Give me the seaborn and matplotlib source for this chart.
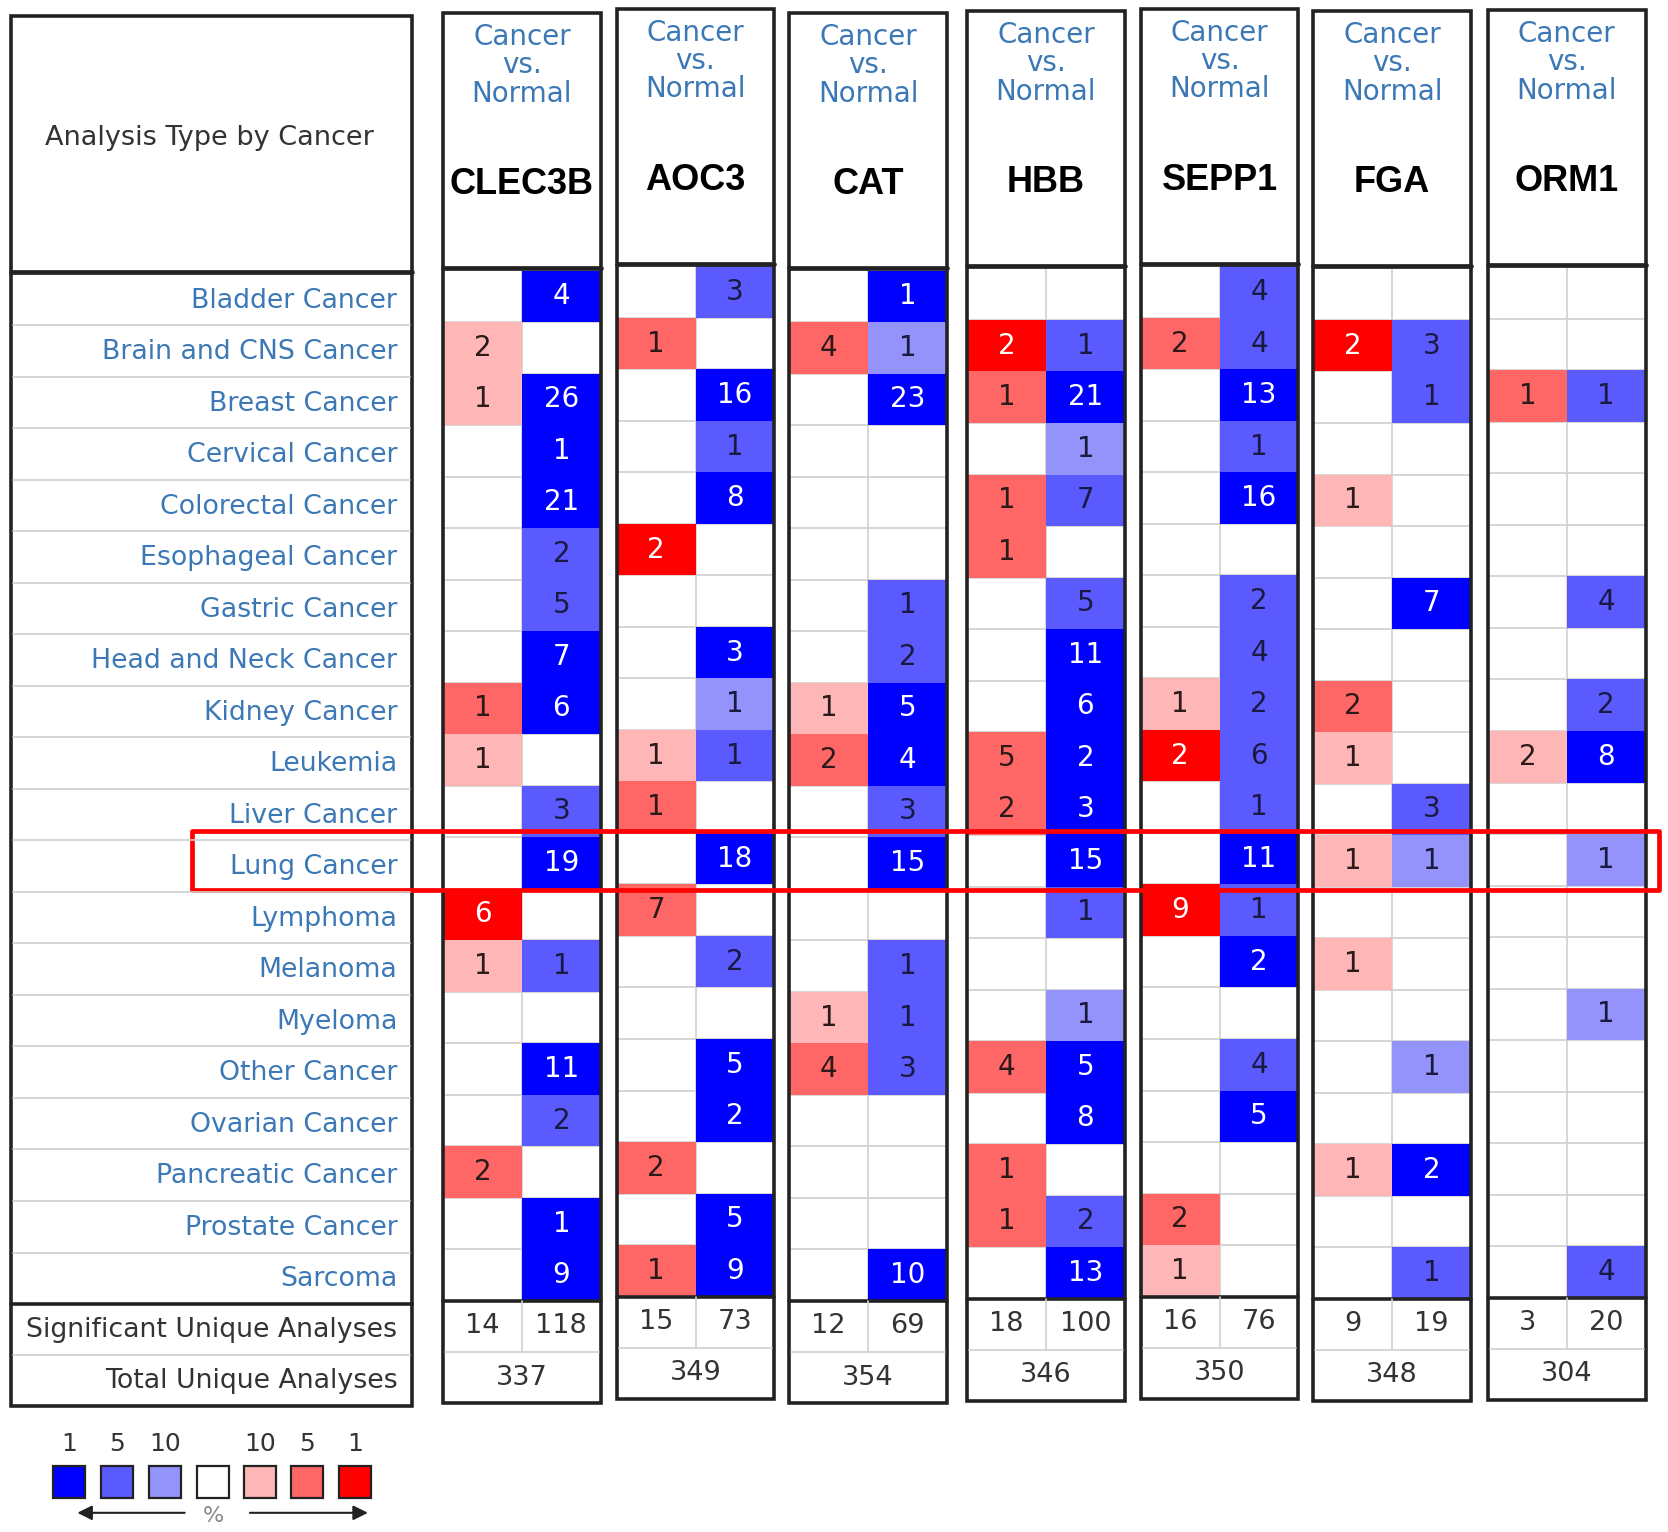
import numpy as np
import pandas as pd
import matplotlib
matplotlib.use("Agg")
import matplotlib.pyplot as plt
from matplotlib.colors import ListedColormap
from matplotlib.patches import Rectangle
import seaborn as sns

cancers = ["Bladder Cancer", "Brain and CNS Cancer", "Breast Cancer", "Cervical Cancer",
           "Colorectal Cancer", "Esophageal Cancer", "Gastric Cancer", "Head and Neck Cancer",
           "Kidney Cancer", "Leukemia", "Liver Cancer", "Lung Cancer", "Lymphoma",
           "Melanoma", "Myeloma", "Other Cancer", "Ovarian Cancer", "Pancreatic Cancer",
           "Prostate Cancer", "Sarcoma"]
genes = ["CLEC3B", "AOC3", "CAT", "HBB", "SEPP1", "FGA", "ORM1"]

# counts of analyses (up = red column, dn = blue column) and gene rank percentile (1/5/10)
clec3b_up   = [0, 2, 1, 0, 0, 0, 0, 0, 1, 1, 0, 0, 6, 1, 0, 0, 0, 2, 0, 0]
clec3b_up_p = [0, 10, 10, 0, 0, 0, 0, 0, 5, 10, 0, 0, 1, 10, 0, 0, 0, 5, 0, 0]
clec3b_dn   = [4, 0, 26, 1, 21, 2, 5, 7, 6, 0, 3, 19, 0, 1, 0, 11, 2, 0, 1, 9]
clec3b_dn_p = [1, 0, 1, 1, 1, 5, 5, 1, 1, 0, 5, 1, 0, 5, 0, 1, 5, 0, 1, 1]

aoc3_up   = [0, 1, 0, 0, 0, 2, 0, 0, 0, 1, 1, 0, 7, 0, 0, 0, 0, 2, 0, 1]
aoc3_up_p = [0, 5, 0, 0, 0, 1, 0, 0, 0, 10, 5, 0, 5, 0, 0, 0, 0, 5, 0, 5]
aoc3_dn   = [3, 0, 16, 1, 8, 0, 0, 3, 1, 1, 0, 18, 0, 2, 0, 5, 2, 0, 5, 9]
aoc3_dn_p = [5, 0, 1, 5, 1, 0, 0, 1, 10, 5, 0, 1, 0, 5, 0, 1, 1, 0, 1, 1]

cat_up   = [0, 4, 0, 0, 0, 0, 0, 0, 1, 2, 0, 0, 0, 0, 1, 4, 0, 0, 0, 0]
cat_up_p = [0, 5, 0, 0, 0, 0, 0, 0, 10, 5, 0, 0, 0, 0, 10, 5, 0, 0, 0, 0]
cat_dn   = [1, 1, 23, 0, 0, 0, 1, 2, 5, 4, 3, 15, 0, 1, 1, 3, 0, 0, 0, 10]
cat_dn_p = [1, 10, 1, 0, 0, 0, 5, 5, 1, 1, 5, 1, 0, 5, 5, 5, 0, 0, 0, 1]

hbb_up   = [0, 2, 1, 0, 1, 1, 0, 0, 0, 5, 2, 0, 0, 0, 0, 4, 0, 1, 1, 0]
hbb_up_p = [0, 1, 5, 0, 5, 5, 0, 0, 0, 5, 5, 0, 0, 0, 0, 5, 0, 5, 5, 0]
hbb_dn   = [0, 1, 21, 1, 7, 0, 5, 11, 6, 2, 3, 15, 1, 0, 1, 5, 8, 0, 2, 13]
hbb_dn_p = [0, 5, 1, 10, 5, 0, 5, 1, 1, 1, 1, 1, 5, 0, 10, 1, 1, 0, 5, 1]

sepp1_up   = [0, 2, 0, 0, 0, 0, 0, 0, 1, 2, 0, 0, 9, 0, 0, 0, 0, 0, 2, 1]
sepp1_up_p = [0, 5, 0, 0, 0, 0, 0, 0, 10, 1, 0, 0, 1, 0, 0, 0, 0, 0, 5, 10]
sepp1_dn   = [4, 4, 13, 1, 16, 0, 2, 4, 2, 6, 1, 11, 1, 2, 0, 4, 5, 0, 0, 0]
sepp1_dn_p = [5, 5, 1, 5, 1, 0, 5, 5, 5, 5, 5, 1, 5, 1, 0, 5, 1, 0, 0, 0]

fga_up   = [0, 2, 0, 0, 1, 0, 0, 0, 2, 1, 0, 1, 0, 1, 0, 0, 0, 1, 0, 0]
fga_up_p = [0, 1, 0, 0, 10, 0, 0, 0, 5, 10, 0, 10, 0, 10, 0, 0, 0, 10, 0, 0]
fga_dn   = [0, 3, 1, 0, 0, 0, 7, 0, 0, 0, 3, 1, 0, 0, 0, 1, 0, 2, 0, 1]
fga_dn_p = [0, 5, 5, 0, 0, 0, 1, 0, 0, 0, 5, 10, 0, 0, 0, 10, 0, 1, 0, 5]

orm1_up   = [0, 0, 1, 0, 0, 0, 0, 0, 0, 2, 0, 0, 0, 0, 0, 0, 0, 0, 0, 0]
orm1_up_p = [0, 0, 5, 0, 0, 0, 0, 0, 0, 10, 0, 0, 0, 0, 0, 0, 0, 0, 0, 0]
orm1_dn   = [0, 0, 1, 0, 0, 0, 4, 0, 2, 8, 0, 1, 0, 0, 1, 0, 0, 0, 0, 4]
orm1_dn_p = [0, 0, 5, 0, 0, 0, 5, 0, 5, 1, 0, 10, 0, 0, 10, 0, 0, 0, 0, 5]

sig_up = [14, 15, 12, 18, 16, 9, 3]
sig_dn = [118, 73, 69, 100, 76, 19, 20]
total = [337, 349, 354, 346, 350, 348, 304]

legend_labels = ["1", "5", "10", "", "10", "5", "1"]

gene_data = [
    (clec3b_up, clec3b_up_p, clec3b_dn, clec3b_dn_p),
    (aoc3_up, aoc3_up_p, aoc3_dn, aoc3_dn_p),
    (cat_up, cat_up_p, cat_dn, cat_dn_p),
    (hbb_up, hbb_up_p, hbb_dn, hbb_dn_p),
    (sepp1_up, sepp1_up_p, sepp1_dn, sepp1_dn_p),
    (fga_up, fga_up_p, fga_dn, fga_dn_p),
    (orm1_up, orm1_up_p, orm1_dn, orm1_dn_p),
]

# colours: full blue .. white .. full red
palette = ["#0000ff", "#5a5aff", "#9393fb", "#ffffff", "#ffb6b6", "#ff6666", "#ff0000"]
cmap = ListedColormap(palette)
lvl = {0: 0, 10: 1, 5: 2, 1: 3}

blue_txt = "#1a1a40"
red_txt = "#2a1a1a"
lab_blue = "#3b78b5"
grid_c = "#d0d0d0"

W, H = 1566, 1438
fig = plt.figure(figsize=(16.68, 15.32), dpi=100)
sns.set_style("white")
plt.rcParams["font.family"] = ["DejaVu Sans"]

ov = fig.add_axes([0, 0, 1, 1], zorder=10)
ov.set_xlim(0, W)
ov.set_ylim(H, 0)
ov.axis("off")
ov.patch.set_alpha(0)

def frac(x0, y0, x1, y1):
    return [x0 / W, 1 - y1 / H, (x1 - x0) / W, (y1 - y0) / H]

row_h = 48.35
n = len(cancers)

# left panel
lx0, lx1 = 10, 387
ltop, lhead, lrows, lbot = 15, 255, 257, 1320
ov.add_patch(Rectangle((lx0, ltop), lx1 - lx0, lbot - ltop, fill=False, lw=2.6, ec="#222222"))
ov.plot([lx0, lx1], [lhead, lhead], color="#222222", lw=3.4)
lsum = lrows + n * row_h
ov.plot([lx0, lx1], [lsum, lsum], color="#222222", lw=2.6)
for k in range(1, n):
    yy = lrows + k * row_h
    ov.plot([lx0 + 2, lx1 - 2], [yy, yy], color=grid_c, lw=1.2)
ov.plot([lx0 + 2, lx1 - 2], [lsum + 48, lsum + 48], color=grid_c, lw=1.2)
ov.text((lx0 + lx1) / 2 - 2, 130, "Analysis Type by Cancer", ha="center", va="center",
        fontsize=19.5, color="#333333")
for k, name in enumerate(cancers):
    ov.text(373, lrows + (k + 0.5) * row_h + 1, name, ha="right", va="center",
            fontsize=19.3, color=lab_blue)
ov.text(373, lsum + 24, "Significant Unique Analyses", ha="right", va="center",
        fontsize=19.3, color="#333333")
ov.text(373, lsum + 72, "Total Unique Analyses", ha="right", va="center",
        fontsize=19.3, color="#333333")

# gene panels
lefts = [416, 579, 741, 908, 1071, 1233, 1397]
dys = [0, -4, 0, -2, -4, -2, -3]
pw = 148
for g, gene in enumerate(genes):
    up, up_p, dn, dn_p = gene_data[g]
    x0 = lefts[g]
    x1 = x0 + pw
    dy = dys[g]
    top, head, rtop = 12 + dy, 252 + dy, 254 + dy
    rbot = rtop + n * row_h
    bot = rbot + 96

    levels = pd.DataFrame({"up": [lvl[p] for p in up_p], "dn": [-lvl[p] for p in dn_p]},
                          index=cancers)
    labels = pd.DataFrame({"up": [str(c) if c else "" for c in up],
                           "dn": [str(c) if c else "" for c in dn]}, index=cancers)
    ax = fig.add_axes(frac(x0, rtop, x1, rbot))
    # grid of empty cells, drawn under the coloured cells
    for k in range(1, n):
        ax.axhline(k, color=grid_c, lw=1.2, zorder=0)
    ax.axvline(1, color=grid_c, lw=1.2, zorder=0)
    sns.heatmap(levels, ax=ax, cmap=cmap, vmin=-3.5, vmax=3.5, cbar=False,
                mask=(levels == 0), annot=labels, fmt="", annot_kws={"size": 20},
                linewidths=0, xticklabels=False, yticklabels=False)
    for t in ax.texts:
        cx, cy = t.get_position()
        v = levels.iloc[int(cy), int(cx)]
        if abs(v) == 3:
            t.set_color("white")
        elif v < 0:
            t.set_color(blue_txt)
        else:
            t.set_color(red_txt)

    ov.add_patch(Rectangle((x0, top), pw, bot - top, fill=False, lw=2.6, ec="#222222"))
    ov.plot([x0, x1], [head, head], color="#222222", lw=3.4)
    ov.plot([x0, x1], [rbot, rbot], color="#222222", lw=2.6)
    ov.plot([x0 + pw / 2, x0 + pw / 2], [rbot, rbot + 48], color=grid_c, lw=1.2)
    ov.plot([x0 + 2, x1 - 2], [rbot + 48, rbot + 48], color=grid_c, lw=1.2)
    cx = x0 + pw / 2
    for txt, yy in [("Cancer", 35), ("vs.", 61), ("Normal", 88)]:
        ov.text(cx, yy + dy, txt, ha="center", va="center", fontsize=20, color=lab_blue)
    ov.text(cx, 173 + dy, gene, ha="center", va="center", fontsize=26,
            fontweight="bold", family="Liberation Sans", color="black")
    ov.text(x0 + pw / 4, rbot + 24, str(sig_up[g]), ha="center", va="center",
            fontsize=19.5, color="#333333")
    ov.text(x0 + 3 * pw / 4, rbot + 24, str(sig_dn[g]), ha="center", va="center",
            fontsize=19.5, color="#333333")
    ov.text(cx, rbot + 72, str(total[g]), ha="center", va="center",
            fontsize=19.5, color="#333333")

# highlight box around lung cancer
ov.add_patch(Rectangle((180, 780), 1378, 55, fill=False, lw=3.4, ec="#ff0000",
                       joinstyle="round"))

# legend
sq_x = [50, 95, 140, 185, 229, 273, 318]
for k in range(7):
    ov.add_patch(Rectangle((sq_x[k], 1376), 30, 30, fc=palette[k], ec="#222222", lw=1.6))
    ov.text(sq_x[k] + 15, 1355, legend_labels[k], ha="center", va="center",
            fontsize=18, color="#333333")
ov.annotate("", xy=(70, 1420), xytext=(176, 1420),
            arrowprops=dict(arrowstyle="-|>", color="#222222", lw=1.5, mutation_scale=22))
ov.annotate("", xy=(348, 1420), xytext=(232, 1420),
            arrowprops=dict(arrowstyle="-|>", color="#222222", lw=1.5, mutation_scale=22))
ov.text(200, 1423, "%", ha="center", va="center", fontsize=16, color="#888888")

fig.savefig("out.png", dpi=100)
